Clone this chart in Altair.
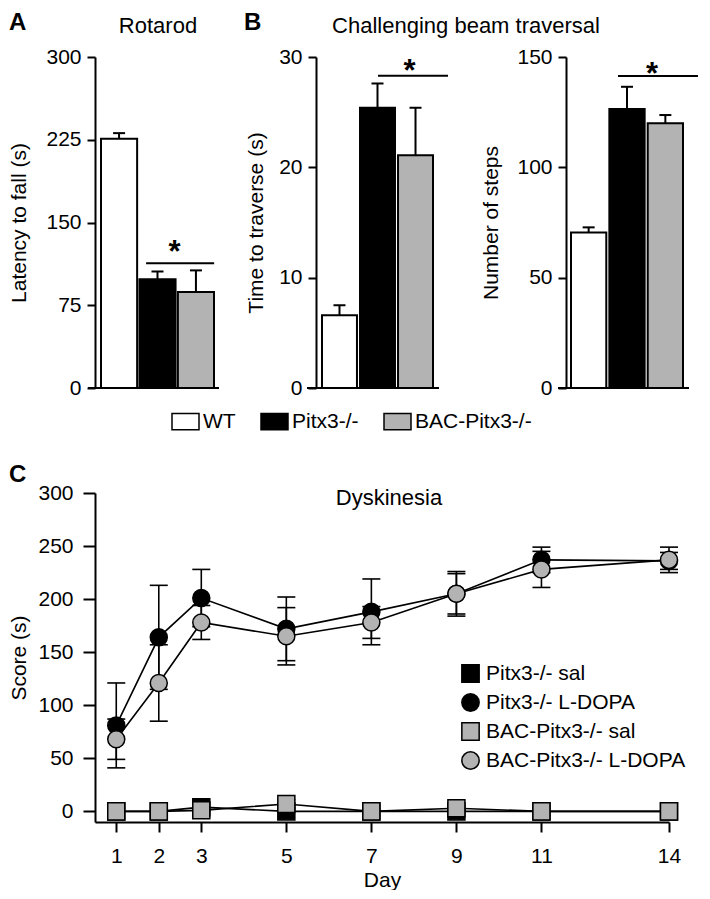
import altair as alt
import pandas as pd

FONT = "Liberation Sans"

# ---------------- data ----------------
groups = ["WT", "Pitx3-/-", "BAC-Pitx3-/-"]
group_fill = ["#ffffff", "#000000", "#b3b3b3"]

rotarod_mean = [226.0, 98.6, 87.0]
rotarod_sem = [5.0, 7.0, 19.6]
traverse_mean = [6.6, 25.4, 21.1]
traverse_sem = [0.9, 2.2, 4.3]
steps_mean = [70.5, 126.4, 120.0]
steps_sem = [2.3, 10.1, 3.7]

days = [1, 2, 3, 5, 7, 9, 11, 14]
series = ["Pitx3-/- sal", "Pitx3-/- L-DOPA", "BAC-Pitx3-/- sal", "BAC-Pitx3-/- L-DOPA"]
series_fill = ["#000000", "#000000", "#b3b3b3", "#b3b3b3"]
series_stroke = ["#000000", "#000000", "#000000", "#000000"]
series_shape = ["square", "circle", "square", "circle"]

pitx_sal_mean = [0, 0, 4, 0, 0, 0, 0, 0]
pitx_sal_sem = [0, 0, 3, 0, 0, 0, 0, 0]
pitx_ldopa_mean = [81, 164, 201, 172, 188, 205, 237, 236]
pitx_ldopa_sem = [40, 49, 27, 30, 31, 19, 12, 8]
bac_sal_mean = [0, 0, 1, 7, 0, 3, 0, 0]
bac_sal_sem = [0, 0, 1, 4, 0, 2, 0, 0]
bac_ldopa_mean = [68, 121, 178, 165, 178, 205, 228, 237]
bac_ldopa_sem = [19, 36, 16, 27, 15, 21, 17, 12]

PLOT_H = 331


def text_layer(txt, x, y, size, weight="normal", align="left", baseline="alphabetic"):
    return alt.Chart(pd.DataFrame({"t": [txt]})).mark_text(
        font=FONT, fontSize=size, fontWeight=weight, align=align,
        baseline=baseline, color="black"
    ).encode(text="t:N", x=alt.value(x), y=alt.value(y))


def bar_panel(letter, letter_x, title, title_x, means, sems, width, xrange, pinner,
              ydomain, yvalues, ytitle, tpad, sig_y, sig_off, star_y, star_dx,
              base_x, legend):
    df = pd.DataFrame({"group": groups, "mean": means,
                       "top": [m + s for m, s in zip(means, sems)]})
    xs = alt.Scale(domain=groups, range=xrange, paddingInner=pinner, paddingOuter=0)
    ys = alt.Scale(domain=ydomain, nice=False, zero=True)
    yax = alt.Axis(values=yvalues, title=ytitle, tickSize=8, labelPadding=6,
                   titlePadding=tpad)
    X = alt.X("group:N", scale=xs, axis=None)
    bars = alt.Chart(df).mark_bar(stroke="black", strokeWidth=2).encode(
        x=X,
        y=alt.Y("mean:Q", scale=ys, axis=yax),
        fill=alt.Fill("group:N", scale=alt.Scale(domain=groups, range=group_fill),
                      legend=legend),
    )
    err = alt.Chart(df).mark_rule(color="black", strokeWidth=2).encode(
        x=X, y=alt.Y("mean:Q", scale=ys, axis=yax), y2="top:Q")
    cap = alt.Chart(df).mark_tick(color="black", orient="horizontal", size=12,
                                  thickness=2, opacity=1).encode(
        x=X, y=alt.Y("top:Q", scale=ys, axis=yax))
    sigdf = pd.DataFrame({"a": [groups[1]], "b": [groups[2]], "y": [sig_y],
                          "s": [star_y], "t": ["*"]})
    sig = alt.Chart(sigdf).mark_rule(color="black", strokeWidth=2,
                                     xOffset=sig_off[0], x2Offset=sig_off[1]).encode(
        x=alt.X("a:N", scale=xs, axis=None, bandPosition=0.5),
        x2=alt.X2("b:N", bandPosition=0.5),
        y=alt.Y("y:Q", scale=ys, axis=yax))
    star = alt.Chart(sigdf).mark_text(font=FONT, fontSize=31, fontWeight="bold",
                                      dx=star_dx, color="black",
                                      baseline="alphabetic").encode(
        x=alt.X("b:N", scale=xs, axis=None),
        y=alt.Y("s:Q", scale=ys, axis=yax), text="t:N")
    base = alt.Chart(sigdf).mark_rule(color="black", strokeWidth=2).encode(
        x=alt.value(base_x[0]), x2=alt.value(base_x[1]), y=alt.value(PLOT_H))
    layers = [bars, err, cap, sig, star, base]
    if letter:
        layers.append(text_layer(letter, letter_x, -46, 24, weight="bold", baseline="top"))
    if title:
        layers.append(text_layer(title, title_x, -24, 22, align="center"))
    return alt.layer(*layers).properties(width=width, height=PLOT_H)


bar_legend = alt.Legend(
    orient="none", direction="horizontal", legendX=76, legendY=350, title=None,
    symbolType="M-1,-0.6H1V0.6H-1Z", symbolSize=729, symbolStrokeColor="black",
    symbolStrokeWidth=1.5, labelFontSize=21, labelFont=FONT, labelOffset=3,
    columnPadding=22, labelLimit=0, labelColor="black",
)

panelA = bar_panel("A", -86, "Rotarod", 63, rotarod_mean, rotarod_sem, 124, [6, 119], 0.06,
                   [0, 300], [0, 75, 150, 225, 300], "Latency to fall (s)", 16,
                   113, (-11.4, 18.2), 114, -21.3, (-7, 124), bar_legend)
panelB1 = bar_panel("B", -72, "Challenging beam traversal", 150, traverse_mean, traverse_sem,
                    153, [6, 117], 0.08, [0, 30], [0, 10, 20, 30], "Time to traverse (s)", 12,
                    28.3, (0.5, 32.5), 27.8, -6, (-9, 123), None)
panelB2 = bar_panel(None, 0, None, 0, steps_mean, steps_sem, 123, [5, 117], 0.08,
                    [0, 150], [0, 50, 100, 150], "Number of steps", 15.5,
                    141.4, (-9, 32.6), 137.6, -13.4, (-8, 123), None)

# ---------------- panel C ----------------
rows = []
for s, m, e in zip(series,
                   [pitx_sal_mean, pitx_ldopa_mean, bac_sal_mean, bac_ldopa_mean],
                   [pitx_sal_sem, pitx_ldopa_sem, bac_sal_sem, bac_ldopa_sem]):
    for d, mv, ev in zip(days, m, e):
        rows.append({"series": s, "day": d, "mean": mv, "low": mv - ev,
                     "high": mv + ev, "sem": ev})
cdf = pd.DataFrame(rows)
edf = cdf[cdf["sem"] > 0]

cx = alt.Scale(domain=[0.5, 14], nice=False, zero=False)
cy = alt.Scale(domain=[-10, 300], nice=False, zero=False)
xax = alt.Axis(values=days, title="Day", tickSize=10, labelPadding=13,
               titlePadding=3, format="d")
yaxc = alt.Axis(values=[0, 50, 100, 150, 200, 250, 300], title="Score (s)",
                tickSize=12, labelPadding=10, titlePadding=8)
CX = alt.X("day:Q", scale=cx, axis=xax)

c_lines = alt.Chart(cdf).mark_line(color="black", strokeWidth=1.6).encode(
    x=CX, y=alt.Y("mean:Q", scale=cy, axis=yaxc), detail="series:N")
c_err = alt.Chart(edf).mark_rule(color="black", strokeWidth=1.6).encode(
    x=CX, y=alt.Y("low:Q", scale=cy, axis=yaxc), y2="high:Q")
c_caph = alt.Chart(edf).mark_tick(color="black", orient="horizontal", size=18,
                                  thickness=1.6, opacity=1).encode(
    x=CX, y=alt.Y("high:Q", scale=cy, axis=yaxc))
c_capl = alt.Chart(edf).mark_tick(color="black", orient="horizontal", size=18,
                                  thickness=1.6, opacity=1).encode(
    x=CX, y=alt.Y("low:Q", scale=cy, axis=yaxc))
c_leg = alt.Legend(orient="none", legendX=365, legendY=170, title=None,
                   labelFontSize=21, labelFont=FONT, labelOffset=5, rowPadding=4,
                   symbolSize=300, symbolStrokeColor="black", symbolStrokeWidth=1.5,
                   labelLimit=0, labelColor="black", symbolOpacity=1)
c_pts = alt.Chart(cdf).mark_point(filled=True, strokeWidth=1.5,
                                  opacity=1, size=290).encode(
    x=CX, y=alt.Y("mean:Q", scale=cy, axis=yaxc),
    shape=alt.Shape("series:N", scale=alt.Scale(domain=series, range=series_shape),
                    legend=c_leg),
    fill=alt.Fill("series:N", scale=alt.Scale(domain=series, range=series_fill),
                  legend=c_leg),
    stroke=alt.Stroke("series:N", scale=alt.Scale(domain=series, range=series_stroke),
                      legend=c_leg),
)
panelC = alt.layer(
    c_lines, c_err, c_caph, c_capl, c_pts,
    text_layer("C", -86, -11, 24, weight="bold"),
    text_layer("Dyskinesia", 294, 12, 22, align="center"),
).properties(width=574, height=329)

top = alt.hconcat(panelA, panelB1, panelB2, spacing=97, bounds="flush").resolve_scale(
    fill="independent")

chart = alt.vconcat(top, panelC, spacing=30).resolve_scale(
    fill="independent", shape="independent", stroke="independent"
).properties(
    padding={"top": 3, "left": 0, "right": 0, "bottom": 0}
).configure(font=FONT).configure_view(
    strokeWidth=0
).configure_axis(
    labelFont=FONT, labelFontSize=21, titleFont=FONT, titleFontSize=21,
    titleFontWeight="normal", domainColor="black", domainWidth=2,
    tickColor="black", tickWidth=2, labelColor="black", titleColor="black",
    grid=False, labelFlush=False, labelOverlap=False,
)

chart.save("out.html", embed_options={"renderer": "svg", "actions": False})
